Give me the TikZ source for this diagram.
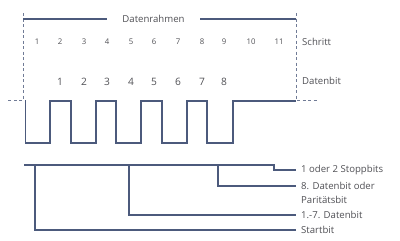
\documentclass[tikz,border=0pt]{standalone}
\usepackage{fontspec}
\setmainfont{Open Sans}
\definecolor{sigblue}{RGB}{76,90,124}
\definecolor{txtgray}{RGB}{80,80,85}
\tikzset{
  sig/.style={draw=sigblue,line width=1.3pt},
  frame/.style={draw=sigblue!80,line width=0.9pt,dash pattern=on 3pt off 2.5pt},
  lbl/.style={text=txtgray,font=\fontsize{9.6}{11}\selectfont,inner sep=0pt},
  numsmall/.style={text=txtgray,font=\fontsize{7.8}{9}\selectfont,inner sep=0pt},
  numbig/.style={text=txtgray,font=\fontsize{10.2}{12}\selectfont,inner sep=0pt}
}
\begin{document}
\begin{tikzpicture}[x=1pt,y=-1pt]
  \useasboundingbox (0,0) rectangle (400,241);
  % Rahmen
  \draw[frame] (23,13) -- (23,100) -- (7,100);
  \draw[frame] (296,13) -- (296,100) -- (318,100);
  \node[lbl,inner xsep=14.5pt,minimum width=93pt] (rahmen) at (153.5,19) {Datenrahmen};
  \draw[sig] (23,19) -- (rahmen.west);
  \draw[sig] (rahmen.east) -- (296,19);
  % Schritte und Datenbits
  \foreach \x [count=\i] in {37,60,84,107,131,154,178,202,224,251,279}
    \node[numsmall] (s\i) at (\x,42) {\i};
  \foreach \x [count=\i] in {60,84,107,131,154,178,202,224}
    \node[numbig] (d\i) at (\x,82) {\i};
  \node[lbl,anchor=west] (schritt) at (302,42) {Schritt};
  \node[lbl,anchor=west] (datenbit) at (302,81) {Datenbit};
  % Signal
  \draw[sig] (25.7,100) -- (25.7,143) -- (50,143) -- (50,101) -- (71,101)
    -- (71,143) -- (96,143) -- (96,101) -- (116,101) -- (116,143) -- (141,143)
    -- (141,101) -- (162,101) -- (162,143) -- (187,143) -- (187,101) -- (207,101)
    -- (207,143) -- (233,143) -- (233,101) -- (296,101);
  % Legende
  \node[lbl,anchor=west] (stopp) at (301,170) {1 oder 2 Stoppbits};
  \node[lbl,anchor=west] (paritaet) at (301,186) {8. Datenbit oder};
  \node[lbl,anchor=west] (paritaet2) at (301,199.5) {Paritätsbit};
  \node[lbl,anchor=west] (daten) at (301,215) {1.-7. Datenbit};
  \node[lbl,anchor=west] (start) at (301,230) {Startbit};
  \draw[sig] (24,165) -- (274,165) |- ([xshift=-5pt]stopp.west);
  \draw[sig] (218,165) |- ([xshift=-5pt]paritaet.west);
  \draw[sig] (129,165) |- ([xshift=-5pt]daten.west);
  \draw[sig] (35,165) |- ([xshift=-5pt]start.west);
\end{tikzpicture}
\end{document}
